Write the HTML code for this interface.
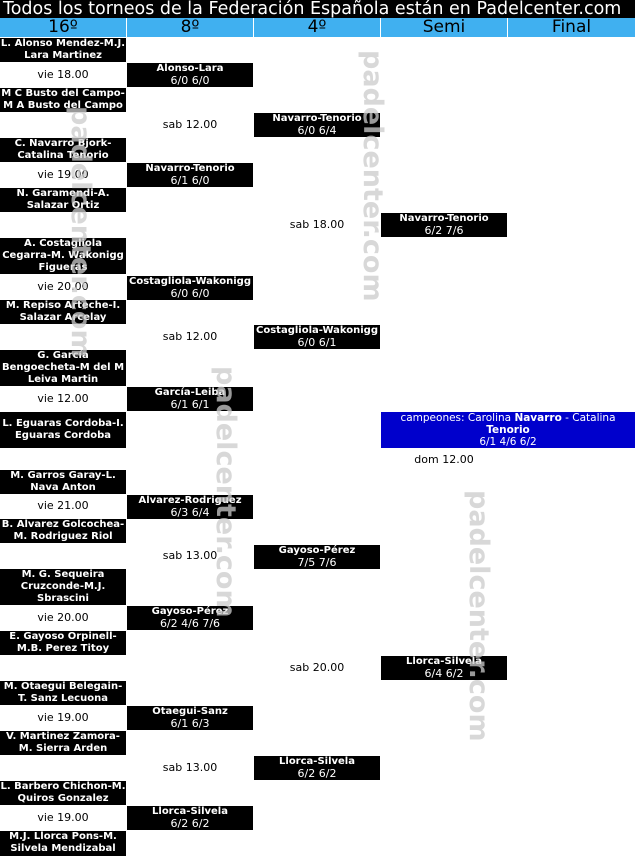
<!DOCTYPE html>
<html><head><meta charset="utf-8"><style>
*{margin:0;padding:0;box-sizing:border-box}
body{width:635px;height:856px;background:#fff;position:relative;overflow:hidden;font-family:"DejaVu Sans","Liberation Sans",sans-serif}
#title{position:absolute;left:0;top:0;width:635px;height:18px;background:#000;color:#fff;font-size:17.5px;line-height:18px;padding-left:3px;white-space:nowrap;font-family:"DejaVu Sans","Liberation Sans",sans-serif}
.h{position:absolute;top:18px;height:19px;background:#40b0f0;color:#000;font-size:17px;line-height:19px;text-align:center}
.b{position:absolute;background:#000;color:#fff;font-weight:bold;font-size:10px;line-height:12px;text-align:center;padding-top:0px;white-space:nowrap;overflow:hidden}
.c{position:absolute;background:#0000cc;color:#fff;font-size:10.5px;line-height:12px;text-align:center}
.b span{font-weight:normal;font-size:11px}
.t{position:absolute;font-size:11px;line-height:12px;text-align:center;color:#000}
.w{position:absolute;color:#ccc;opacity:.75;font-weight:bold;font-size:27px;white-space:nowrap;transform-origin:0 0;transform:rotate(90deg);font-family:"DejaVu Sans","Liberation Sans",sans-serif;letter-spacing:0px}
</style></head><body>
<div id="title">Todos los torneos de la Federación Española están en Padelcenter.com</div>
<div class="h" style="left:0;width:126px">16º</div>
<div class="h" style="left:127px;width:126px">8º</div>
<div class="h" style="left:254px;width:126px">4º</div>
<div class="h" style="left:381px;width:126px">Semi</div>
<div class="h" style="left:508px;width:127px">Final</div>

<!-- 16th -->
<div class="b" style="left:0;width:126px;top:38px;height:24px">L. Alonso Mendez-M.J.<br>Lara Martinez</div>
<div class="t" style="left:0;width:126px;top:69px">vie 18.00</div>
<div class="b" style="left:0;width:126px;top:88px;height:24px">M C Busto del Campo-<br>M A Busto del Campo</div>
<div class="b" style="left:0;width:126px;top:138px;height:24px">C. Navarro Bjork-<br>Catalina Tenorio</div>
<div class="t" style="left:0;width:126px;top:169px">vie 19.00</div>
<div class="b" style="left:0;width:126px;top:188px;height:24px">N. Garamendi-A.<br>Salazar Ortiz</div>
<div class="b" style="left:0;width:126px;top:238px;height:36px">A. Costagliola<br>Cegarra-M. Wakonigg<br>Figueras</div>
<div class="t" style="left:0;width:126px;top:281px">vie 20.00</div>
<div class="b" style="left:0;width:126px;top:300px;height:24px">M. Repiso Arteche-I.<br>Salazar Arcelay</div>
<div class="b" style="left:0;width:126px;top:350px;height:36px">G. García<br>Bengoecheta-M del M<br>Leiva Martin</div>
<div class="t" style="left:0;width:126px;top:393px">vie 12.00</div>
<div class="b" style="left:0;width:126px;top:412px;height:36px;padding-top:6px">L. Eguaras Cordoba-I.<br>Eguaras Cordoba</div>
<div class="b" style="left:0;width:126px;top:470px;height:24px">M. Garros Garay-L.<br>Nava Anton</div>
<div class="t" style="left:0;width:126px;top:500px">vie 21.00</div>
<div class="b" style="left:0;width:126px;top:519px;height:24px">B. Alvarez Golcochea-<br>M. Rodriguez Riol</div>
<div class="b" style="left:0;width:126px;top:569px;height:36px">M. G. Sequeira<br>Cruzconde-M.J.<br>Sbrascini</div>
<div class="t" style="left:0;width:126px;top:612px">vie 20.00</div>
<div class="b" style="left:0;width:126px;top:631px;height:24px">E. Gayoso Orpinell-<br>M.B. Perez Titoy</div>
<div class="b" style="left:0;width:126px;top:681px;height:24px">M. Otaegui Belegain-<br>T. Sanz Lecuona</div>
<div class="t" style="left:0;width:126px;top:712px">vie 19.00</div>
<div class="b" style="left:0;width:126px;top:731px;height:24px">V. Martinez Zamora-<br>M. Sierra Arden</div>
<div class="b" style="left:0;width:126px;top:781px;height:24px">L. Barbero Chichon-M.<br>Quiros Gonzalez</div>
<div class="t" style="left:0;width:126px;top:812px">vie 19.00</div>
<div class="b" style="left:0;width:126px;top:831px;height:25px">M.J. Llorca Pons-M.<br>Silvela Mendizabal</div>

<!-- 8th -->
<div class="b" style="left:127px;width:126px;top:63px;height:24px">Alonso-Lara<br><span>6/0 6/0</span></div>
<div class="t" style="left:127px;width:126px;top:119px">sab 12.00</div>
<div class="b" style="left:127px;width:126px;top:163px;height:24px">Navarro-Tenorio<br><span>6/1 6/0</span></div>
<div class="b" style="left:127px;width:126px;top:276px;height:24px">Costagliola-Wakonigg<br><span>6/0 6/0</span></div>
<div class="t" style="left:127px;width:126px;top:331px">sab 12.00</div>
<div class="b" style="left:127px;width:126px;top:387px;height:24px">García-Leiba<br><span>6/1 6/1</span></div>
<div class="b" style="left:127px;width:126px;top:495px;height:24px">Alvarez-Rodriguez<br><span>6/3 6/4</span></div>
<div class="t" style="left:127px;width:126px;top:550px">sab 13.00</div>
<div class="b" style="left:127px;width:126px;top:606px;height:24px">Gayoso-Pérez<br><span>6/2 4/6 7/6</span></div>
<div class="b" style="left:127px;width:126px;top:706px;height:24px">Otaegui-Sanz<br><span>6/1 6/3</span></div>
<div class="t" style="left:127px;width:126px;top:762px">sab 13.00</div>
<div class="b" style="left:127px;width:126px;top:806px;height:24px">Llorca-Silvela<br><span>6/2 6/2</span></div>

<!-- 4th -->
<div class="b" style="left:254px;width:126px;top:113px;height:24px">Navarro-Tenorio<br><span>6/0 6/4</span></div>
<div class="t" style="left:254px;width:126px;top:219px">sab 18.00</div>
<div class="b" style="left:254px;width:126px;top:325px;height:24px">Costagliola-Wakonigg<br><span>6/0 6/1</span></div>
<div class="b" style="left:254px;width:126px;top:545px;height:24px">Gayoso-Pérez<br><span>7/5 7/6</span></div>
<div class="t" style="left:254px;width:126px;top:662px">sab 20.00</div>
<div class="b" style="left:254px;width:126px;top:756px;height:24px">Llorca-Silvela<br><span>6/2 6/2</span></div>

<!-- Semi -->
<div class="b" style="left:381px;width:126px;top:213px;height:24px">Navarro-Tenorio<br><span>6/2 7/6</span></div>
<div class="c" style="left:381px;width:254px;top:412px;height:36px">campeones: Carolina <b>Navarro</b> - Catalina<br><b>Tenorio</b><br>6/1 4/6 6/2</div>
<div class="t" style="left:381px;width:126px;top:454px">dom 12.00</div>
<div class="b" style="left:381px;width:126px;top:656px;height:24px">Llorca-Silvela<br><span>6/4 6/2</span></div>

<!-- watermarks -->
<div class="w" style="left:388px;top:50px">padelcenter.com</div>
<div class="w" style="left:96px;top:106px">padelcenter.com</div>
<div class="w" style="left:241px;top:366px">padelcenter.com</div>
<div class="w" style="left:494px;top:490px">padelcenter.com</div>
</body></html>
